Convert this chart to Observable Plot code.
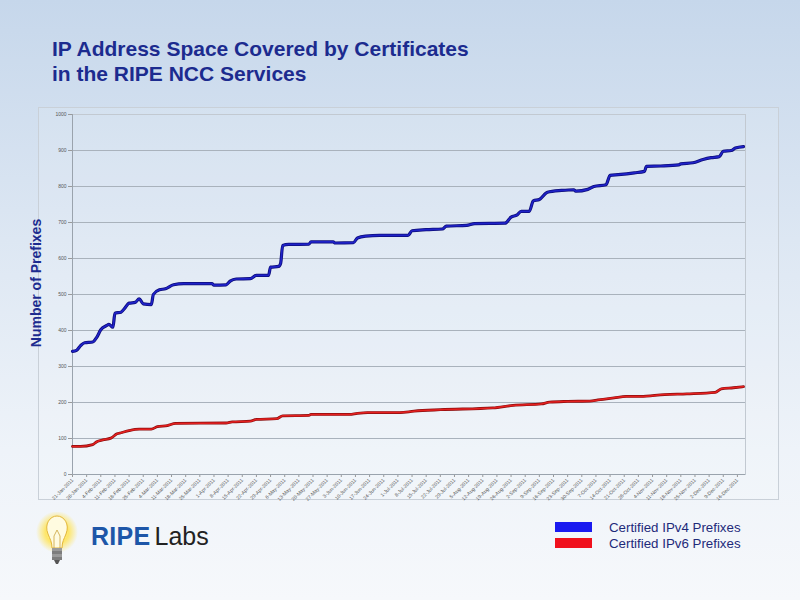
<!DOCTYPE html>
<html><head><meta charset="utf-8">
<script src="https://cdn.jsdelivr.net/npm/d3@7"></script>
<script src="https://cdn.jsdelivr.net/npm/@observablehq/plot@0.6"></script>
<style>
html,body{margin:0;padding:0;}
body{width:800px;height:600px;overflow:hidden;font-family:"Liberation Sans",Arial,sans-serif;}
#page{position:relative;width:800px;height:600px;background:linear-gradient(#c6d7eb 0%,#dde7f3 40%,#eef3f9 75%,#f6f8fb 100%);}
#title{position:absolute;left:52px;top:36px;font-size:21px;font-weight:bold;color:#1c2b8f;line-height:25px;}
#panel{position:absolute;left:38px;top:107px;width:741px;height:393px;border:1px solid #c9d0d8;box-sizing:border-box;background:rgba(255,255,255,0.10);}
#chart{position:absolute;left:0;top:0;}
#ylabel{position:absolute;left:36px;top:283px;transform:translate(-50%,-50%) rotate(-90deg);font-size:14px;font-weight:bold;color:#1c2b8f;white-space:nowrap;}
#legend{position:absolute;left:555px;top:519px;font-size:13.3px;color:#1e2a7a;}
.lg{display:flex;align-items:center;height:16px;}
.sw{width:37px;height:10px;margin-right:17px;}
#logo{position:absolute;left:34px;top:512px;}
#brand{position:absolute;left:91px;top:522px;font-size:25px;white-space:nowrap;}
#brand b{color:#1d56a8;letter-spacing:0.3px;}
#brand span{color:#222;margin-left:4px;}
</style></head>
<body>
<div id="page">
  <div id="title">IP Address Space Covered by Certificates<br>in the RIPE NCC Services</div>
  <div id="panel"></div>
  <div id="chart"></div>
  <div id="ylabel">Number of Prefixes</div>
  <div id="legend"></div>
  <svg id="logo" width="50" height="62" viewBox="0 0 50 62">
    <defs>
      <radialGradient id="glow" cx="0.5" cy="0.5" r="0.5">
        <stop offset="0" stop-color="#fff7b0"/>
        <stop offset="0.55" stop-color="#ffe45a" stop-opacity="0.9"/>
        <stop offset="1" stop-color="#ffe45a" stop-opacity="0"/>
      </radialGradient>
    </defs>
    <circle cx="23" cy="20" r="21" fill="url(#glow)"/>
    <path d="M14,22 C10,12 16,4 23,4 C30,4 36,12 32,22 C30,27 28,30 28,36 L18,36 C18,30 16,27 14,22 Z" fill="#fffbe0" stroke="#e2b63a" stroke-width="1"/>
    <path d="M20,36 L20,24 L23,18 L26,24 L26,36" fill="none" stroke="#c9a23c" stroke-width="0.8"/>
    <rect x="18" y="36" width="10" height="3" fill="#9a9a9a"/>
    <rect x="18" y="39" width="10" height="3" fill="#7d7d7d"/>
    <rect x="18" y="42" width="10" height="3" fill="#9a9a9a"/>
    <rect x="18" y="45" width="10" height="3" fill="#7d7d7d"/>
    <path d="M20,48 L26,48 L24,52 L22,52 Z" fill="#555"/>
  </svg>
  <div id="brand"><b>RIPE</b><span>Labs</span></div>
</div>
<script>
// ---- data ----
const ipv4Dates = ["2011-01-21","2011-01-23","2011-01-25","2011-01-27","2011-01-31","2011-02-02","2011-02-04","2011-02-07","2011-02-08","2011-02-10","2011-02-11","2011-02-14","2011-02-16","2011-02-18","2011-02-21","2011-02-23","2011-02-25","2011-03-01","2011-03-02","2011-03-05","2011-03-08","2011-03-12","2011-03-17","2011-03-31","2011-04-01","2011-04-07","2011-04-09","2011-04-12","2011-04-19","2011-04-22","2011-04-28","2011-04-29","2011-05-03","2011-05-04","2011-05-05","2011-05-08","2011-05-18","2011-05-19","2011-05-30","2011-05-31","2011-06-09","2011-06-11","2011-06-15","2011-06-22","2011-07-06","2011-07-08","2011-07-15","2011-07-23","2011-07-25","2011-08-04","2011-08-08","2011-08-23","2011-08-26","2011-08-29","2011-08-31","2011-09-04","2011-09-06","2011-09-09","2011-09-13","2011-09-20","2011-09-26","2011-09-27","2011-10-03","2011-10-06","2011-10-12","2011-10-14","2011-10-18","2011-10-26","2011-10-31","2011-11-01","2011-11-08","2011-11-17","2011-11-18","2011-11-24","2011-11-29","2011-12-03","2011-12-07","2011-12-09","2011-12-13","2011-12-15","2011-12-19"];
const ipv4Values = [342,345,358,366,368,381,402,414,417,409,448,451,463,476,478,488,474,472,500,513,516,527,530,530,526,527,537,543,544,553,553,576,578,587,636,639,640,646,646,643,644,657,662,664,664,677,680,682,690,692,697,698,715,721,731,731,760,764,784,789,791,787,792,800,805,831,833,838,842,856,857,860,863,866,875,880,883,898,900,907,911];

const ipv6Dates = ["2011-01-21","2011-01-25","2011-01-31","2011-02-02","2011-02-05","2011-02-09","2011-02-12","2011-02-14","2011-02-18","2011-02-23","2011-03-01","2011-03-04","2011-03-09","2011-03-13","2011-04-07","2011-04-10","2011-04-19","2011-04-22","2011-05-02","2011-05-05","2011-05-18","2011-05-19","2011-06-07","2011-06-11","2011-06-16","2011-07-02","2011-07-09","2011-07-22","2011-08-17","2011-08-27","2011-09-10","2011-09-14","2011-09-23","2011-10-04","2011-10-08","2011-10-16","2011-10-22","2011-10-29","2011-11-10","2011-11-21","2011-12-05","2011-12-08","2011-12-14","2011-12-19"];
const ipv6Values = [78,78,83,91,96,101,113,116,122,126,126,133,136,142,143,146,148,153,155,163,164,167,167,170,172,172,176,180,185,192,196,201,203,204,207,213,217,217,222,224,228,238,241,244];

const xTickDates = ["2011-01-21","2011-01-28","2011-02-04","2011-02-11","2011-02-18","2011-02-25","2011-03-04","2011-03-11","2011-03-18","2011-03-25","2011-04-01","2011-04-08","2011-04-15","2011-04-22","2011-04-29","2011-05-06","2011-05-13","2011-05-20","2011-05-27","2011-06-03","2011-06-10","2011-06-17","2011-06-24","2011-07-01","2011-07-08","2011-07-15","2011-07-22","2011-07-29","2011-08-05","2011-08-12","2011-08-19","2011-08-26","2011-09-02","2011-09-09","2011-09-16","2011-09-23","2011-09-30","2011-10-07","2011-10-14","2011-10-21","2011-10-28","2011-11-04","2011-11-11","2011-11-18","2011-11-25","2011-12-02","2011-12-09","2011-12-16"];
const yTicks = [0,100,200,300,400,500,600,700,800,900,1000];
const xDomain = ["2011-01-21","2011-12-20"];

const seriesNames = ["Certified IPv4 Prefixes","Certified IPv6 Prefixes"];
const seriesColors = ["#1a1af0","#f0101c"];

// ---- build ----
const parse = d3.utcParse("%Y-%m-%d");
const ipv4 = ipv4Dates.map((d,i)=>({date:parse(d), value:ipv4Values[i]}));
const ipv6 = ipv6Dates.map((d,i)=>({date:parse(d), value:ipv6Values[i]}));

const chart = Plot.plot({
  width: 800, height: 600,
  marginLeft: 72, marginRight: 55, marginTop: 114, marginBottom: 126,
  style: {background:"transparent", fontFamily:"'Liberation Sans', Arial, sans-serif", color:"#555"},
  x: {type:"utc", domain: xDomain.map(parse)},
  y: {domain:[0,1000]},
  marks: [
    Plot.gridY(yTicks, {stroke:"#a9b2bc", strokeOpacity:1, strokeWidth:1}),
    Plot.frame({stroke:"#c2c9d1"}),
    Plot.axisY({ticks:yTicks, tickFormat:d3.format("d"), tickSize:4, tickPadding:2, fontSize:5, label:null, stroke:"#999"}),
    Plot.axisX({ticks:xTickDates.map(parse), tickFormat:d3.utcFormat("%-d-%b-%Y"), tickRotate:-45, tickSize:3, tickPadding:2, fontSize:5, label:null, stroke:"#999"}),
    Plot.ruleX([parse(xDomain[0])], {stroke:"#9aa3ad"}),
    Plot.ruleY([0], {stroke:"#9aa3ad"}),
    Plot.lineY(ipv4, {x:"date", y:"value", stroke:"#0c0c78", strokeWidth:3.2, curve:"monotone-x"}),
    Plot.lineY(ipv4, {x:"date", y:"value", stroke:"#1f22c8", strokeWidth:1.7, curve:"monotone-x"}),
    Plot.lineY(ipv6, {x:"date", y:"value", stroke:"#8a0c0c", strokeWidth:2.8, curve:"monotone-x"}),
    Plot.lineY(ipv6, {x:"date", y:"value", stroke:"#e52020", strokeWidth:1.5, curve:"monotone-x"})
  ]
});
document.getElementById("chart").appendChild(chart);

const legend = document.getElementById("legend");
seriesNames.forEach((n,i)=>{
  const row = document.createElement("div"); row.className="lg";
  const sw = document.createElement("div"); sw.className="sw"; sw.style.background=seriesColors[i];
  const t = document.createElement("span"); t.textContent=n;
  row.appendChild(sw); row.appendChild(t); legend.appendChild(row);
});
</script>
</body></html>
